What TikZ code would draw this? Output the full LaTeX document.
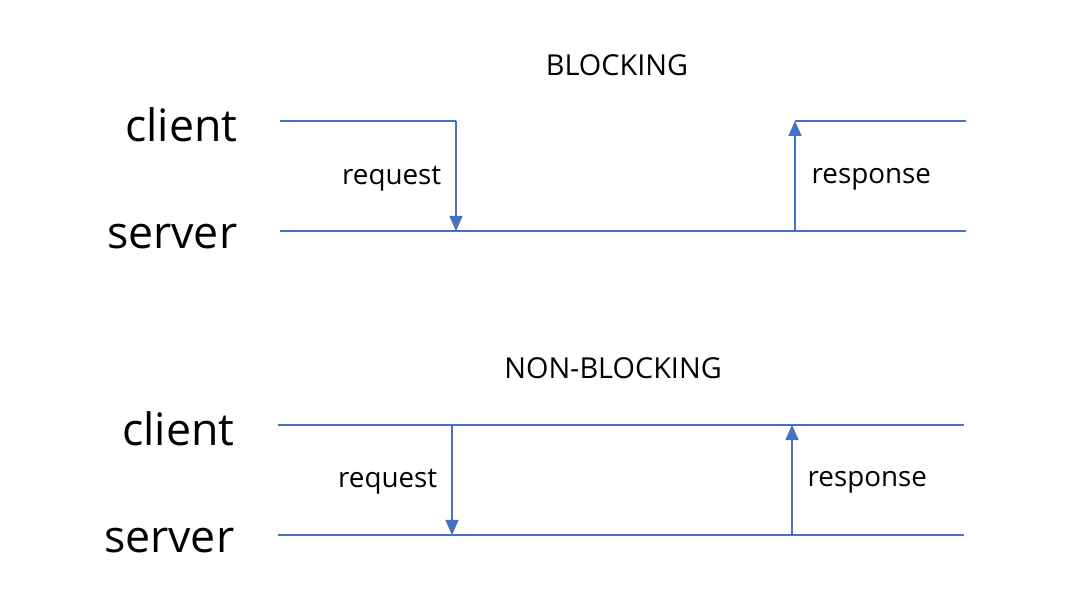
\documentclass[tikz,border=0pt]{standalone}
\usepackage{fontspec}
\setmainfont{Open Sans}
\usepackage{xcolor}
\usetikzlibrary{arrows.meta}
\definecolor{lineblue}{HTML}{4472C4}

\begin{document}
\begin{tikzpicture}[x=0.01cm,y=-0.01cm,
  timeline/.style={draw=lineblue, line width=0.6pt},
  msg/.style={draw=lineblue, line width=0.45pt, -{Triangle[length=0.15cm,width=0.13cm]}},
  who/.style={anchor=east, inner sep=0pt, font=\fontsize{12.7}{15}\selectfont},
  lbl/.style={inner sep=0pt, font=\fontsize{7.9}{9}\selectfont},
  ttl/.style={inner sep=0pt, font=\fontsize{8.2}{10}\selectfont}]
\useasboundingbox (0,0) rectangle (1066,604);

% blocking
\node[ttl] (bt) at (617,65) {BLOCKING};
\node[who] (bc) at (238,125) {client};
\node[who] (bs) at (238,237) {server};
\coordinate (bc1) at (280,121);
\coordinate (bc2) at (456,121);
\coordinate (bc3) at (795,121);
\coordinate (bc4) at (966,121);
\coordinate (bs1) at (280,231);
\coordinate (bs2) at (456,231);
\coordinate (bs3) at (795,231);
\coordinate (bs4) at (966,231);
\draw[timeline] (bc1) -- (bc2);
\draw[timeline] (bc3) -- (bc4);
\draw[timeline] (bs1) -- (bs4);
\draw[msg] (bc2) -- (bs2);
\draw[msg] (bs3) -- (bc3);
\node[lbl, anchor=east] (breq) at (442,179) {request};
\node[lbl, anchor=west] (bres) at (811,179) {response};

% non-blocking
\node[ttl] (nt) at (613,368) {NON-BLOCKING};
\node[who] (nc) at (235,429) {client};
\node[who] (ns) at (235,541) {server};
\coordinate (nc1) at (278,425);
\coordinate (nc2) at (452,425);
\coordinate (nc3) at (792,425);
\coordinate (nc4) at (964,425);
\coordinate (ns1) at (278,535);
\coordinate (ns2) at (452,535);
\coordinate (ns3) at (792,535);
\coordinate (ns4) at (964,535);
\draw[timeline] (nc1) -- (nc4);
\draw[timeline] (ns1) -- (ns4);
\draw[msg] (nc2) -- (ns2);
\draw[msg] (ns3) -- (nc3);
\node[lbl, anchor=east] (nreq) at (438,482) {request};
\node[lbl, anchor=west] (nres) at (807,482) {response};
\end{tikzpicture}
\end{document}
